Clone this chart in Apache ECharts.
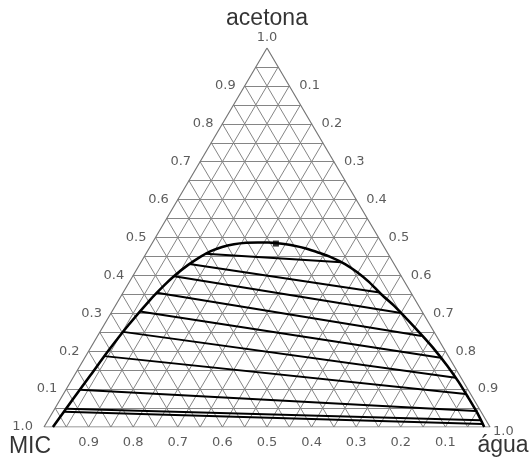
<!DOCTYPE html>
<html><head><meta charset="utf-8">
<script src="https://cdn.jsdelivr.net/npm/echarts@6/dist/echarts.min.js"></script>
<style>html,body{margin:0;padding:0;background:#fff}#c{width:532px;height:466px}</style>
</head><body><div id="c"></div>
<script>
// Binodal curve (mass fractions), from MIC-rich side to water-rich side
const curveAcetone = [0, 0.071, 0.137, 0.203, 0.269, 0.335, 0.375, 0.401, 0.427, 0.449, 0.464, 0.475, 0.482, 0.486, 0.487, 0.487, 0.484, 0.479, 0.471, 0.460, 0.447, 0.430, 0.409, 0.383, 0.351, 0.317, 0.282, 0.243, 0.203, 0.161, 0.119, 0.077, 0.037, 0];
const curveWater   = [0.020, 0.028, 0.036, 0.044, 0.055, 0.070, 0.083, 0.094, 0.109, 0.126, 0.142, 0.162, 0.185, 0.210, 0.236, 0.259, 0.287, 0.319, 0.352, 0.386, 0.422, 0.460, 0.497, 0.537, 0.580, 0.629, 0.675, 0.725, 0.775, 0.824, 0.870, 0.913, 0.953, 0.987];
// Tie lines: MIC-rich end and water-rich end
const tieLeftAcetone  = [0.457, 0.430, 0.398, 0.354, 0.305, 0.251, 0.187, 0.098, 0.048, 0.040];
const tieLeftWater    = [0.134, 0.111, 0.093, 0.076, 0.063, 0.052, 0.042, 0.031, 0.026, 0.025];
const tieRightAcetone = [0.435, 0.355, 0.301, 0.240, 0.183, 0.130, 0.087, 0.042, 0.018, 0.008];
const tieRightWater   = [0.449, 0.575, 0.650, 0.727, 0.798, 0.858, 0.902, 0.947, 0.970, 0.979];
// Plait point [acetone, water]
const plaitPoint = [0.484, 0.278];
// Axes
const gridDivisions = 20;
const tickValues = [0.1, 0.2, 0.3, 0.4, 0.5, 0.6, 0.7, 0.8, 0.9];
const tickLabels = ['0.1', '0.2', '0.3', '0.4', '0.5', '0.6', '0.7', '0.8', '0.9'];
const cornerNames = ['acetona', 'MIC', 'água'];

// ternary (acetone, water) -> cartesian
function toXY(a, w) { return [w + a / 2, a]; }

const gridLines = [];
for (let k = 1; k < gridDivisions; k++) {
  const t = k / gridDivisions;
  gridLines.push({ coords: [toXY(t, 0), toXY(t, 1 - t)] });          // acetone = t
  gridLines.push({ coords: [toXY(0, t), toXY(1 - t, t)] });          // water = t
  gridLines.push({ coords: [toXY(0, 1 - t), toXY(1 - t, 0)] });      // MIC = t
}
const outline = [toXY(0, 0), toXY(0, 1), toXY(1, 0), toXY(0, 0)];

const curveData = curveAcetone.map((a, i) => toXY(a, curveWater[i]));
const tieData = tieLeftAcetone.map((a, i) => ({
  coords: [toXY(a, tieLeftWater[i]), toXY(tieRightAcetone[i], tieRightWater[i])]
}));

const tickFont = { fontFamily: 'DejaVu Sans', fontSize: 13, color: '#333' };
const labelData = [];
tickValues.forEach((t, i) => {
  labelData.push({ value: toXY(t, 0), label: Object.assign({ show: true, formatter: tickLabels[i], position: 'left', distance: 9 }, tickFont) });
  labelData.push({ value: toXY(1 - t, t), label: Object.assign({ show: true, formatter: tickLabels[i], position: 'right', distance: 10 }, tickFont) });
  labelData.push({ value: toXY(0, 1 - t), label: Object.assign({ show: true, formatter: tickLabels[i], position: 'bottom', distance: 9 }, tickFont) });
});
labelData.push({ value: toXY(1, 0), label: Object.assign({ show: true, formatter: '1.0', position: 'top', distance: 4 }, tickFont) });
labelData.push({ value: toXY(0, 0), label: Object.assign({ show: true, formatter: '1.0', position: 'left', distance: 11 }, tickFont) });
labelData.push({ value: toXY(0, 1), label: Object.assign({ show: true, formatter: '1.0', position: 'right', distance: 3, offset: [0, 5] }, tickFont) });

const titleFont = { fontFamily: 'Liberation Sans', fontSize: 23, color: '#000' };
const titleData = [
  { value: toXY(1, 0), label: Object.assign({ show: true, formatter: cornerNames[0], position: 'top', distance: 18 }, titleFont) },
  { value: toXY(0, 0), label: Object.assign({ show: true, formatter: cornerNames[1], position: 'inside', offset: [-14, 20] }, titleFont) },
  { value: toXY(0, 1), label: Object.assign({ show: true, formatter: cornerNames[2], position: 'inside', offset: [13, 19] }, titleFont) }
];

const chart = echarts.init(document.getElementById('c'), null, { renderer: 'canvas' });
chart.setOption({
  animation: false,
  backgroundColor: '#fff',
  grid: { left: 44, right: 42, top: 48, bottom: 39 },
  xAxis: { type: 'value', min: 0, max: 1, show: false },
  yAxis: { type: 'value', min: 0, max: 1, show: false },
  series: [
    { type: 'lines', coordinateSystem: 'cartesian2d', data: gridLines, silent: true, z: 1,
      lineStyle: { color: '#858585', width: 1, opacity: 1 } },
    { type: 'line', data: outline, showSymbol: false, silent: true, z: 2,
      lineStyle: { color: '#777', width: 1.2 } },
    { type: 'lines', coordinateSystem: 'cartesian2d', data: tieData, z: 3,
      lineStyle: { color: '#000', width: 2, opacity: 1 } },
    { type: 'line', data: curveData, smooth: 0.3, showSymbol: false, z: 4,
      lineStyle: { color: '#000', width: 2.6 } },
    { type: 'scatter', data: [toXY(plaitPoint[0], plaitPoint[1])], symbol: 'rect', symbolSize: 6, z: 5,
      itemStyle: { color: '#000' } },
    { type: 'scatter', data: labelData, symbolSize: 0, silent: true, z: 6 },
    { type: 'scatter', data: titleData, symbolSize: 0, silent: true, z: 6 }
  ]
});
</script></body></html>
